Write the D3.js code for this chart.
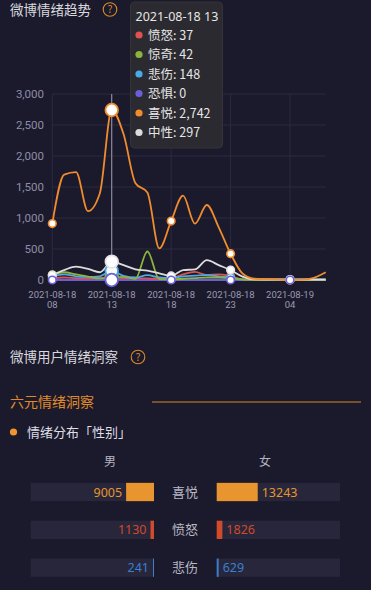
<!DOCTYPE html>
<html><head><meta charset="utf-8">
<script src="https://cdn.jsdelivr.net/npm/d3@7"></script>
<style>
html,body{margin:0;padding:0;background:#1b1a2c;}
svg{display:block;font-family:"Noto Sans CJK SC","Noto Sans",sans-serif;}
</style></head>
<body>
<svg id="c" width="371" height="590"></svg>
<script>
// ---- data ----
const times = ["2021-08-18 08","2021-08-18 09","2021-08-18 10","2021-08-18 11","2021-08-18 12","2021-08-18 13",
  "2021-08-18 14","2021-08-18 15","2021-08-18 16","2021-08-18 17","2021-08-18 18","2021-08-18 19",
  "2021-08-18 20","2021-08-18 21","2021-08-18 22","2021-08-18 23","2021-08-19 00","2021-08-19 01",
  "2021-08-19 02","2021-08-19 03","2021-08-19 04","2021-08-19 05","2021-08-19 06","2021-08-19 07"];
const seriesNames = ["愤怒","惊奇","悲伤","恐惧","喜悦","中性"];
const seriesColors = ["#e0524f","#8db43a","#4aa9e9","#6a5fd8","#f08c2e","#dcdcdc"];
const anger    = [30,40,30,25,30,37,30,30,25,20,30,90,130,80,90,60,10,5,5,5,3,3,3,3];
const surprise = [85,125,90,55,25,42,50,20,460,15,10,20,30,40,40,30,5,3,3,3,3,3,3,3];
const sadness  = [60,90,60,50,60,148,65,40,80,40,30,60,70,80,60,40,10,5,5,5,5,5,5,5];
const fear     = [0,0,0,0,0,0,0,0,0,0,0,0,0,0,0,0,0,0,0,0,0,0,0,0];
const joy      = [910,1700,1740,1110,1400,2742,2350,1560,1410,510,950,1360,910,1210,850,425,105,20,12,5,0,5,35,125];
const neutral  = [80,160,215,180,125,297,240,172,150,108,65,160,170,320,240,160,55,10,8,8,8,8,8,8];
const seriesValues = [anger, surprise, sadness, fear, joy, neutral];
const yTicks = [0,500,1000,1500,2000,2500,3000];
const xTickIdx = [0,5,10,15,20];
const hoverIdx = 5;

const genderCats = ["喜悦","愤怒","悲伤"];
const maleVals = [9005,1130,241];
const femaleVals = [13243,1826,629];
const genderColors = ["#e8952f","#d14a2a","#3a7fd0"];

// ---- drawing ----
const svg = d3.select("#c");
const x = d3.scaleLinear().domain([0, times.length-1]).range([52.3, 325.7]);
const y = d3.scaleLinear().domain([0, 3000]).range([280, 94]);

function qmark(cx, cy){
  svg.append("circle").attr("cx",cx).attr("cy",cy).attr("r",6.8)
    .attr("fill","none").attr("stroke","#d98a2c").attr("stroke-width",1.1);
  svg.append("text").attr("x",cx).attr("y",cy+3.8).attr("text-anchor","middle")
    .attr("font-size",10.5).attr("fill","#d98a2c").text("?");
}
svg.append("text").attr("x",10).attr("y",15).attr("font-size",13.5).attr("fill","#d8d8de").text("微博情绪趋势");
qmark(110, 9.5);

const g = svg.append("g");
g.selectAll(".hg").data(yTicks).join("line")
  .attr("x1",x(0)).attr("x2",x(times.length-1)).attr("y1",d=>y(d)).attr("y2",d=>y(d))
  .attr("stroke","#2a2940").attr("stroke-width",1);
g.selectAll(".vg").data(xTickIdx).join("line")
  .attr("x1",d=>x(d)).attr("x2",d=>x(d)).attr("y1",y(3000)).attr("y2",y(0))
  .attr("stroke","#2a2940").attr("stroke-width",1);

g.selectAll(".yl").data(yTicks).join("text")
  .attr("x",44).attr("y",d=>y(d)+4).attr("text-anchor","end")
  .attr("font-size",11.5).attr("fill","#8e8da6").attr("font-family","Roboto, 'Noto Sans', sans-serif")
  .text(d=>d3.format(",")(d));

xTickIdx.forEach(i=>{
  const [d,h] = times[i].split(" ");
  g.append("text").attr("x",x(i)).attr("y",298).attr("text-anchor","middle")
    .attr("font-size",9.5).attr("fill","#9a99b0").attr("font-family","Roboto, 'Noto Sans', sans-serif").text(d);
  g.append("text").attr("x",x(i)).attr("y",308).attr("text-anchor","middle")
    .attr("font-size",9.5).attr("fill","#9a99b0").attr("font-family","Roboto, 'Noto Sans', sans-serif").text(h);
});

g.append("line").attr("x1",x(hoverIdx)).attr("x2",x(hoverIdx)).attr("y1",y(3000)).attr("y2",y(0))
  .attr("stroke","#9d9cab").attr("stroke-width",1);

const line = d3.line().x((d,i)=>x(i)).y(d=>y(d)).curve(d3.curveMonotoneX);
const drawOrder = [3,0,2,1,5,4];
drawOrder.forEach(s=>{
  g.append("path").datum(seriesValues[s]).attr("d",line)
    .attr("fill","none").attr("stroke",seriesColors[s]).attr("stroke-width",1.8);
});

const markOrder = [0,1,2,4,5,3];
markOrder.forEach(s=>{
  xTickIdx.forEach(i=>{
    const big = i===hoverIdx;
    g.append("circle").attr("cx",x(i)).attr("cy",y(seriesValues[s][i]))
      .attr("r", big?6.3:3.8).attr("fill","#fff")
      .attr("stroke", s===5 ? "#e4e4e4" : seriesColors[s]).attr("stroke-width", big?1.8:1.6);
  });
});

const tt = svg.append("g");
tt.append("rect").attr("x",130.5).attr("y",2).attr("width",92).attr("height",146).attr("rx",4)
  .attr("fill","#2b2a30").attr("stroke","#34333a");
tt.append("text").attr("x",135.5).attr("y",21).attr("font-size",12.5).attr("fill","#e6e6e6")
  .attr("font-family","'Noto Sans', sans-serif").text(times[hoverIdx]);
seriesNames.forEach((n,k)=>{
  const cy = 35 + k*19.5;
  tt.append("circle").attr("cx",139).attr("cy",cy).attr("r",3.6).attr("fill",seriesColors[k]);
  tt.append("text").attr("x",148).attr("y",cy+4.5).attr("font-size",12.5).attr("fill","#e6e6e6")
    .text(n + ": " + d3.format(",")(seriesValues[k][hoverIdx]));
});

svg.append("text").attr("x",10).attr("y",362).attr("font-size",13.5).attr("fill","#d8d8de").text("微博用户情绪洞察");
qmark(138, 357);
svg.append("text").attr("x",10).attr("y",407).attr("font-size",14).attr("fill","#e08a2a").text("六元情绪洞察");
svg.append("line").attr("x1",152).attr("x2",361).attr("y1",402).attr("y2",402)
  .attr("stroke","#d9862a").attr("stroke-width",1.2);
svg.append("circle").attr("cx",13.5).attr("cy",432).attr("r",3.6).attr("fill","#f0952e");
svg.append("text").attr("x",27).attr("y",437).attr("font-size",13).attr("fill","#dedee4").text("情绪分布「性别」");

svg.append("text").attr("x",110).attr("y",466).attr("text-anchor","middle").attr("font-size",12).attr("fill","#b5b4c2").text("男");
svg.append("text").attr("x",265).attr("y",466).attr("text-anchor","middle").attr("font-size",12).attr("fill","#b5b4c2").text("女");

const bw = d3.scaleLinear().domain([0, 39700]).range([0, 123]);
const rowY = d3.scalePoint().domain(genderCats).range([492, 567.7]);
const leftEnd = 154, rightStart = 216.7, trackW = 123.3, rowH = 18.3;
genderCats.forEach((c,i)=>{
  const cy = rowY(c);
  svg.append("rect").attr("x",leftEnd-trackW).attr("y",cy-rowH/2).attr("width",trackW).attr("height",rowH).attr("fill","#27263a");
  svg.append("rect").attr("x",rightStart).attr("y",cy-rowH/2).attr("width",trackW).attr("height",rowH).attr("fill","#27263a");
  const lw = Math.max(1, bw(maleVals[i])), rw = Math.max(1, bw(femaleVals[i]));
  svg.append("rect").attr("x",leftEnd-lw).attr("y",cy-rowH/2).attr("width",lw).attr("height",rowH).attr("fill",genderColors[i]);
  svg.append("rect").attr("x",rightStart).attr("y",cy-rowH/2).attr("width",rw).attr("height",rowH).attr("fill",genderColors[i]);
  svg.append("text").attr("x",leftEnd-lw-4).attr("y",cy+4.5).attr("text-anchor","end")
    .attr("font-size",12.5).attr("fill",genderColors[i]).attr("font-family","'Noto Sans', sans-serif").text(maleVals[i]);
  svg.append("text").attr("x",rightStart+rw+4).attr("y",cy+4.5)
    .attr("font-size",12.5).attr("fill",genderColors[i]).attr("font-family","'Noto Sans', sans-serif").text(femaleVals[i]);
  svg.append("text").attr("x",185).attr("y",cy+4.5).attr("text-anchor","middle")
    .attr("font-size",13).attr("fill","#b8b7c4").text(c);
});
</script>
</body></html>
